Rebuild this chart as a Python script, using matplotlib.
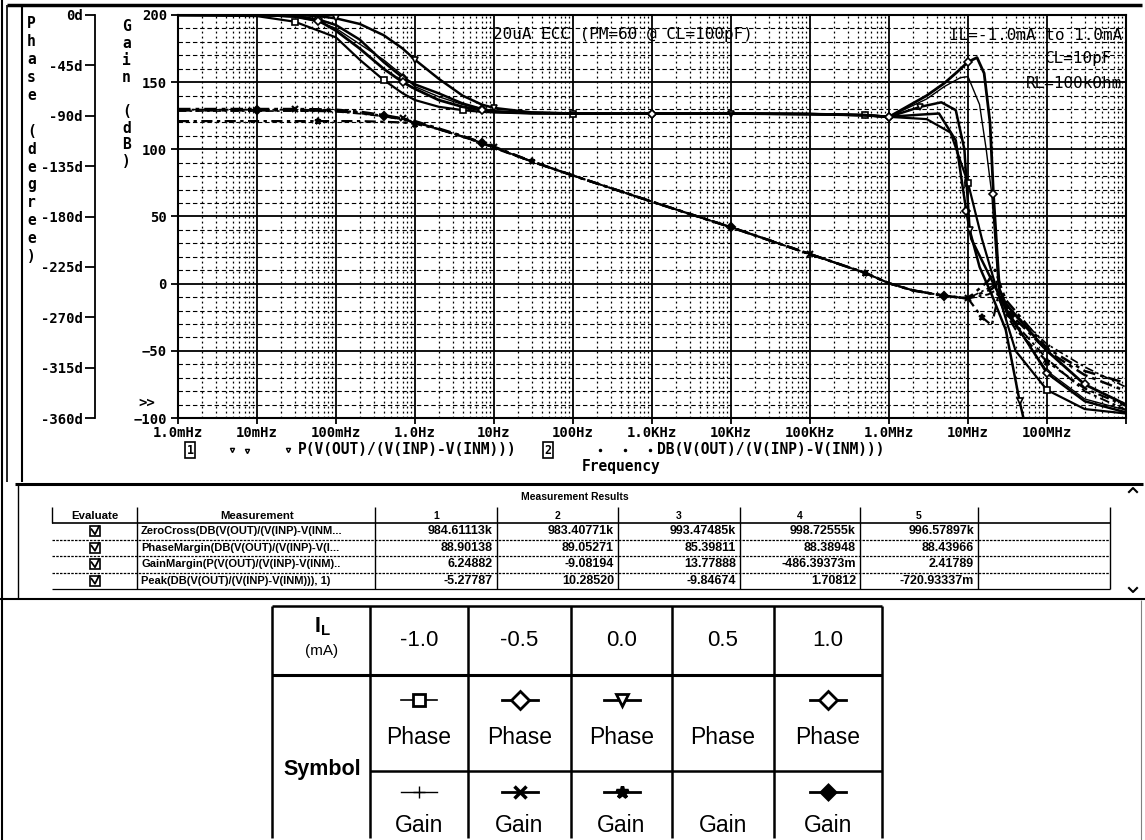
import numpy as np
import matplotlib.pyplot as plt
from matplotlib.ticker import FixedLocator, FixedFormatter, LogLocator, MultipleLocator, NullFormatter
from matplotlib.patches import Rectangle

# ---------------- data ----------------
il_labels = ['-1.0', '-0.5', '0.0', '0.5', '1.0']

# shared low / mid band frequency points (Hz)
freq_lo = [1e-3, 1e-2, 0.03, 0.06, 0.1, 0.2, 0.4, 0.7, 1, 2, 4, 7, 10, 30, 100, 1e3, 1e4, 1e5, 5e5]

# phase (degree), low / mid band
phase_lo_m10 = [0, -1, -6, -14, -20, -40, -58, -70, -76, -82, -85, -86.5, -87, -88, -88, -88, -88, -88.5, -89.5]
phase_lo_m05 = [0, 0, -1, -4, -9, -22, -42, -56, -62, -70, -79, -84, -86, -87.5, -88, -88, -88, -88.5, -89.5]
phase_lo_00 = [0, 0, 0, -1, -3, -8, -18, -30, -40, -57, -72, -80, -83, -87, -88, -88, -88, -88.5, -89.5]
phase_lo_05 = [0, 0, -2, -6, -12, -26, -40, -54, -64, -73, -80, -84, -86, -87.5, -88, -88, -88, -88.5, -89.5]
phase_lo_10 = [0, 0, -1, -5, -14, -30, -48, -60, -66, -76, -82, -85, -86.5, -87.5, -88, -88, -88, -88.5, -89.5]

# phase, high band
pf_hi_m10 = [1e6, 3e6, 6e6, 1e7, 1.5e7, 2.2e7, 4e7, 1e8, 3e8, 1e9]
phase_hi_m10 = [-91, -93, -105, -150, -200, -240, -300, -335, -352, -356]
pf_hi_m05 = [1e6, 2.5e6, 4.3e6, 7e6, 9.5e6, 1.1e7, 2e7, 3e7, 1e8, 3e8, 1e9]
phase_hi_m05 = [-91, -89, -88, -112, -175, -200, -237, -262, -320, -345, -355]
pf_hi_00 = [1e6, 2.5e6, 4.6e6, 7e6, 9e6, 1.05e7, 1.4e7, 2e7, 3e7, 4.5e7, 5.5e7]
phase_hi_00 = [-91, -82, -78, -85, -120, -192, -225, -250, -281, -345, -372]
pf_hi_05 = [1e6, 3e6, 5e6, 8e6, 1e7, 1.4e7, 1.7e7, 2e7, 2.4e7, 3e7, 1e8, 3e8, 1e9]
phase_hi_05 = [-91, -75, -64, -56, -55, -80, -120, -160, -240, -265, -318, -343, -353]
pf_hi_10 = [1e6, 3e6, 5e6, 7e6, 1e7, 1.3e7, 1.6e7, 1.9e7, 2.1e7, 2.5e7, 3e7, 1e8, 3e8, 1e9]
phase_hi_10 = [-91, -72, -61, -52, -42, -38, -52, -96, -160, -245, -258, -300, -330, -348]

# gain (dB), low / mid band
gain_lo_m10 = [129.5, 129.5, 129.5, 129.2, 129, 127.5, 125, 122.5, 120.5, 115, 109.5, 105, 101.5, 91, 80.5, 61, 42, 22, 8]
gain_lo_m05 = [130, 130, 130, 129.8, 129.5, 128, 125.5, 123, 121, 115.5, 110, 105, 102, 91, 80.5, 61, 42, 22, 8]
gain_lo_00 = [121, 121, 121, 121, 121, 121, 120.5, 120, 119, 115, 109.5, 104.5, 101, 91, 80.5, 61, 42, 22, 8]
gain_lo_05 = [128.5, 128.5, 128.5, 128.3, 128, 126.5, 124.5, 122, 120, 115, 109.5, 105, 101.5, 91, 80.5, 61, 42, 22, 8]
gain_lo_10 = [129, 129, 129, 128.8, 128.5, 127, 125, 122.5, 120.5, 115, 109.5, 105, 101.5, 91, 80.5, 61, 42, 22, 8]

# gain, high band
gf_hi_m10 = [1e6, 2e6, 5e6, 1e7, 1.8e7, 2.2e7, 2.7e7, 4e7, 1e8, 3e8, 1e9]
gain_hi_m10 = [0.3, -5, -9, -11, -8, -5.3, -14, -30, -56, -80, -94]
gf_hi_m05 = [1e6, 2e6, 5e6, 1e7, 1.8e7, 2.2e7, 2.6e7, 3e7, 1e8, 3e8, 1e9]
gain_hi_m05 = [0.3, -5, -9, -11, 2, 10.3, -2, -12, -48, -65, -74]
gf_hi_00 = [1e6, 2e6, 5e6, 1e7, 1.5e7, 2e7, 2.4e7, 2.8e7, 4e7, 1e8, 3e8, 1e9]
gain_hi_00 = [0.3, -5, -9, -11, -25, -31, -9.8, -19, -34, -58, -78, -91]
gf_hi_05 = [1e6, 2e6, 5e6, 1e7, 2e7, 2.3e7, 2.7e7, 3.5e7, 1e8, 3e8, 1e9]
gain_hi_05 = [0.3, -5, -9, -11, -2, 1.7, -10, -20, -45, -62, -77]
gf_hi_10 = [1e6, 2e6, 5e6, 1e7, 2e7, 2.3e7, 2.7e7, 3.5e7, 1e8, 3e8, 1e9]
gain_hi_10 = [0.3, -5, -9, -11, -4, -0.7, -12, -23, -50, -68, -80]

x_ticks = [1e-3, 1e-2, 1e-1, 1, 10, 100, 1e3, 1e4, 1e5, 1e6, 1e7, 1e8, 1e9]
x_tick_labels = ['1.0mHz', '10mHz', '100mHz', '1.0Hz', '10Hz', '100Hz', '1.0KHz',
                 '10KHz', '100KHz', '1.0MHz', '10MHz', '100MHz', '']
gain_ticks = [-100, -50, 0, 50, 100, 150, 200]
phase_ticks = [-360, -315, -270, -225, -180, -135, -90, -45, 0]
phase_tick_labels = ['-360d', '-315d', '-270d', '-225d', '-180d', '-135d', '-90d', '-45d', '0d']

meas_names = ['ZeroCross(DB(V(OUT)/(V(INP)-V(INM...',
              'PhaseMargin(DB(V(OUT)/(V(INP)-V(I...',
              'GainMargin(P(V(OUT)/(V(INP)-V(INM)..',
              'Peak(DB(V(OUT)/(V(INP)-V(INM))), 1)']
meas_values = [
    ['984.61113k', '983.40771k', '993.47485k', '998.72555k', '996.57897k'],
    ['88.90138', '89.05271', '85.39811', '88.38948', '88.43966'],
    ['6.24882', '-9.08194', '13.77888', '-486.39373m', '2.41789'],
    ['-5.27787', '10.28520', '-9.84674', '1.70812', '-720.93337m'],
]

# ---------------- figure ----------------
plt.rcParams['font.family'] = 'DejaVu Sans Mono'
plt.rcParams['font.weight'] = 'bold'

W, H = 1145, 840
fig = plt.figure(figsize=(W / 100, H / 100), dpi=100)


def px_rect(x0, y0, x1, y1):
    return [x0 / W, 1 - y1 / H, (x1 - x0) / W, (y1 - y0) / H]


ax = fig.add_axes(px_rect(178, 15, 1126, 418))
ax.set_xscale('log')
ax.set_xlim(1e-3, 1e9)
ax.set_ylim(-100, 200)
ax.set_axisbelow(True)

ax.xaxis.set_major_locator(FixedLocator(x_ticks))
ax.xaxis.set_major_formatter(FixedFormatter(x_tick_labels))
ax.xaxis.set_minor_locator(LogLocator(base=10, subs=np.arange(2, 10), numticks=200))
ax.xaxis.set_minor_formatter(NullFormatter())
ax.yaxis.set_major_locator(FixedLocator(gain_ticks))
ax.yaxis.set_minor_locator(MultipleLocator(10))
ax.tick_params(axis='both', which='major', direction='out', length=5, width=1.3,
               labelsize=10, pad=3)
ax.tick_params(axis='x', which='major', length=4, pad=2)
ax.tick_params(which='minor', length=0)
ax.xaxis.grid(True, which='major', color='black', lw=1.3)
ax.yaxis.grid(True, which='major', color='black', lw=1.3)
ax.xaxis.grid(True, which='minor', color='black', lw=0.9, ls=(0, (1.5, 2.5)))
ax.yaxis.grid(True, which='minor', color='black', lw=0.8, ls=(0, (4, 2.5)))
for s in ax.spines.values():
    s.set_linewidth(1.5)

ax2 = ax.twinx()
ax2.set_ylim(-360, 0)
ax2.yaxis.set_ticks_position('left')
ax2.spines['left'].set_position(('outward', 83 * 0.72))
ax2.spines['left'].set_linewidth(1.3)
for side in ['right', 'top', 'bottom']:
    ax2.spines[side].set_visible(False)
ax2.set_yticks(phase_ticks)
ax2.set_yticklabels(phase_tick_labels)
ax2.tick_params(axis='y', direction='out', length=7, width=1.3, labelsize=10, pad=2)

# phase traces
phase_traces = [
    (phase_lo_m10, pf_hi_m10, phase_hi_m10, 's', 1.6),
    (phase_lo_m05, pf_hi_m05, phase_hi_m05, 'D', 1.8),
    (phase_lo_00, pf_hi_00, phase_hi_00, 'v', 1.8),
    (phase_lo_05, pf_hi_05, phase_hi_05, None, 1.0),
    (phase_lo_10, pf_hi_10, phase_hi_10, 'D', 2.0),
]
for k, (lo, fh, hi, mk, lw) in enumerate(phase_traces):
    ax2.plot(freq_lo + fh, lo + hi, color='black', lw=lw, marker=mk, ms=4.5,
             mfc='white', mec='black', mew=1.2, markevery=(k % 3 + 2, 4))

# gain traces
gain_traces = [
    (gain_lo_m10, gf_hi_m10, gain_hi_m10, '+', 1.4),
    (gain_lo_m05, gf_hi_m05, gain_hi_m05, 'x', 1.8),
    (gain_lo_00, gf_hi_00, gain_hi_00, '*', 1.6),
    (gain_lo_05, gf_hi_05, gain_hi_05, None, 1.2),
    (gain_lo_10, gf_hi_10, gain_hi_10, 'D', 1.8),
]
for k, (lo, fh, hi, mk, lw) in enumerate(gain_traces):
    ax.plot(freq_lo + fh, lo + hi, color='black', lw=lw, ls=(0, (5, 2, 1.5, 2)),
            marker=mk, ms=4.5, mfc='black', mec='black', mew=1.5,
            markevery=(k % 4 + 1, 5))

# ---------------- overlay in pixel coordinates ----------------
bg = fig.add_axes([0, 0, 1, 1])
bg.set_xlim(0, W)
bg.set_ylim(H, 0)
bg.axis('off')
bg.patch.set_visible(False)


def hline(y, x0, x1, lw=1.0, ls='-', color='black'):
    bg.plot([x0, x1], [y, y], color=color, lw=lw, ls=ls, solid_capstyle='butt')


def vline(x, y0, y1, lw=1.0, ls='-', color='black'):
    bg.plot([x, x], [y0, y1], color=color, lw=lw, ls=ls, solid_capstyle='butt')


# window frames
hline(5, 7, 1142, lw=2.5)
vline(1.5, 0, 840, lw=1.5)
vline(7, 5, 482, lw=1.2)
vline(22, 5, 482, lw=1.5)

# axis titles (stacked letters)
bg.text(27, 16, '\n'.join('Phase (degree)'), fontsize=10.5,
        ha='left', va='top', linespacing=1.245)
bg.text(122, 19, '\n'.join('Gain (dB)'), fontsize=10.5, ha='left', va='top',
        linespacing=1.16)
bg.text(138, 403, '>>', fontsize=10, ha='left', va='center')

# annotations inside the plot
anno = dict(family='DejaVu Sans Mono', weight='normal', fontsize=11.5, va='center')
bg.text(493, 35, '20uA ECC (PM=60 @ CL=100pF)', ha='left', **anno)
bg.text(1122, 35, 'IL=-1.0mA to 1.0mA', ha='right', **anno)
bg.text(1112, 58, 'CL=10pF', ha='right', **anno)
bg.text(1122, 83, 'RL=100kOhm', ha='right', **anno)

# trace legend under the x axis
bg.text(190, 450, '1', fontsize=8.5, ha='center', va='center',
        bbox=dict(boxstyle='square,pad=0.1', fc='white', ec='black', lw=1.2))
bg.plot([232, 247, 288], [450, 451, 450], ls='none', marker='v', ms=3,
        mfc='white', mec='black')
bg.text(298, 450, 'P(V(OUT)/(V(INP)-V(INM)))', fontsize=10.5, ha='left', va='center')
bg.text(548, 450, '2', fontsize=8.5, ha='center', va='center',
        bbox=dict(boxstyle='square,pad=0.1', fc='white', ec='black', lw=1.2))
bg.plot([600, 625, 650], [450, 450, 450], ls='none', marker='.', ms=3, color='black')
bg.text(657, 450, 'DB(V(OUT)/(V(INP)-V(INM)))', fontsize=10.5, ha='left', va='center')
bg.text(621, 466, 'Frequency', fontsize=10.5, ha='center', va='center')

# ---------------- measurement results table ----------------
sans = dict(family=['Liberation Sans', 'DejaVu Sans'])
hline(484, 15, 1143, lw=2.2)
vline(18, 484, 598, lw=1.0)
bg.text(575, 497, 'Measurement Results', fontsize=7.5, weight='bold',
        ha='center', va='center', **sans)
col_x = [52, 137, 375, 497, 618, 740, 860, 978, 1110]
head_y, row_top, row_h = 516, 523, 16.5
vline(col_x[0], 507, 523, lw=1.0)
for cx in col_x[1:]:
    vline(cx, 507, 523 + 4 * row_h, lw=1.0)
bg.text(95, head_y, 'Evaluate', fontsize=8.2, weight='bold', ha='center', va='center', **sans)
bg.text(257, head_y, 'Measurement', fontsize=8.2, weight='bold', ha='center', va='center', **sans)
for j in range(5):
    bg.text((col_x[j + 2] + col_x[j + 3]) / 2, head_y, str(j + 1), fontsize=7.5,
            weight='bold', ha='center', va='center', **sans)
hline(row_top, 52, 1110, lw=1.2)
for i in range(4):
    yc = row_top + row_h * (i + 0.5)
    ls = '-' if i == 3 else (0, (2, 1))
    hline(row_top + row_h * (i + 1), 52, 1110, lw=0.9, ls=ls)
    bg.add_patch(Rectangle((90, yc - 5), 10, 10, fill=False, ec='black', lw=1.2))
    bg.plot([91.5, 95, 99], [yc - 2, yc + 3, yc - 5], color='black', lw=1.3)
    bg.text(141, yc, meas_names[i], fontsize=8, weight='bold', ha='left',
            va='center', **sans)
    for j in range(5):
        bg.text(col_x[j + 3] - 4, yc, meas_values[i][j], fontsize=9, weight='bold',
                ha='right', va='center', **sans)
bg.plot([1129, 1133, 1137], [492, 488, 492], color='black', lw=1.5)
bg.plot([1129, 1133, 1137], [588, 592, 588], color='black', lw=1.5)
hline(599, 0, 1145, lw=1.5)
vline(1141, 600, 840, lw=0.8, color='0.5')

# ---------------- symbol key table ----------------
cond_family = ['Liberation Sans Narrow', 'Liberation Sans', 'DejaVu Sans']
sym_cols = [272, 370, 468, 571, 672, 774, 882]
t_top, t_head, t_mid, t_bot = 606, 675, 771, 838
hline(t_top, sym_cols[0], sym_cols[-1], lw=1.8)
hline(t_head, sym_cols[0], sym_cols[-1], lw=2.2)
hline(t_mid, sym_cols[1], sym_cols[-1], lw=1.8)
for cx in sym_cols:
    vline(cx, t_top, t_bot, lw=1.8)
bg.text(322, 627, r'I$_\mathregular{L}$', fontsize=15.5, ha='center', va='center',
        weight='bold', family=cond_family)
bg.text(322, 651, '(mA)', fontsize=11, ha='center', va='center', weight='normal',
        family=cond_family)
bg.text(322, 770, 'Symbol', fontsize=15.5, ha='center', va='center', weight='bold',
        family=cond_family)

phase_syms = ['s', 'D', 'v', None, 'D']
gain_syms = ['+', 'x', '*', None, 'D']
for j in range(5):
    cx = (sym_cols[j + 1] + sym_cols[j + 2]) / 2
    bg.text(cx, 641, il_labels[j], fontsize=16, ha='center', va='center',
            weight='normal', family=cond_family)
    if phase_syms[j]:
        bg.plot([cx - 18, cx + 18], [700, 700], color='black', lw=2 if j else 1.2)
        bg.plot([cx], [700], marker=phase_syms[j], ms=9, mfc='white', mec='black', mew=2)
    bg.text(cx, 737, 'Phase', fontsize=16.5, ha='center', va='center',
            weight='normal', family=cond_family)
    if gain_syms[j]:
        bg.plot([cx - 18, cx + 18], [792, 792], color='black', lw=2 if j else 1.0)
        bg.plot([cx], [792], marker=gain_syms[j], ms=9 if j != 4 else 7,
                mfc='black', mec='black', mew=2.5 if j else 1.0)
    bg.text(cx, 825, 'Gain', fontsize=16.5, ha='center', va='center',
            weight='normal', family=cond_family)

fig.savefig('out.png', dpi=100)
